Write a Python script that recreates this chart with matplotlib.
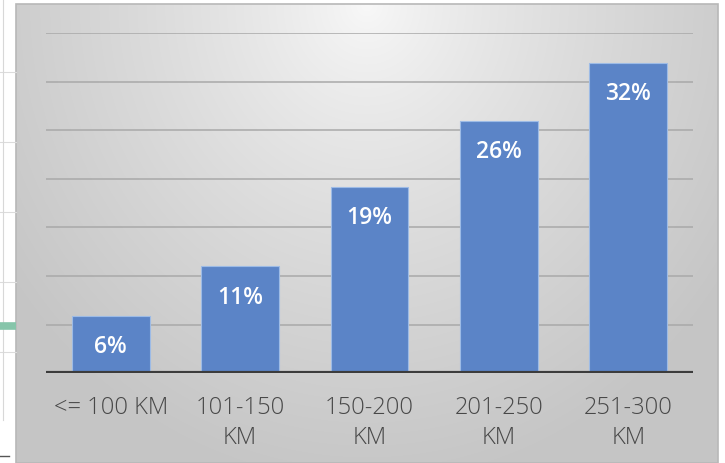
import numpy as np
import matplotlib
matplotlib.use("Agg")
import matplotlib.pyplot as plt
from matplotlib.lines import Line2D
from matplotlib.patches import Rectangle

categories = ["<= 100 KM", "101-150\nKM", "150-200\nKM", "201-250\nKM", "251-300\nKM"]
values = [0.059, 0.110, 0.192, 0.260, 0.319]
labels = ["6%", "11%", "19%", "26%", "32%"]

W, H = 725, 463
fig = plt.figure(figsize=(W / 100, H / 100), dpi=100)
fig.patch.set_facecolor("white")

# ---- spreadsheet artifacts on the left ----
def fx(px):
    return px / W
def fy(py):
    return 1 - py / H

for yy in [72, 142, 212, 282, 352]:
    fig.add_artist(Line2D([fx(0), fx(16)], [fy(yy), fy(yy)], color="#dcdcdc", lw=0.8))
fig.add_artist(Line2D([fx(3), fx(3)], [fy(0), fy(420)], color="#d8d8d8", lw=0.8))
fig.add_artist(Line2D([fx(0), fx(16)], [fy(326), fy(326)], color="#86c5aa", lw=5.5, solid_capstyle="butt"))
fig.add_artist(Line2D([fx(0), fx(9)], [fy(456), fy(456)], color="#555555", lw=1.0))

# ---- gradient chart background ----
bx0, bx1, by0, by1 = 16, 718, 4, 463
bg = fig.add_axes([fx(bx0), fy(by1), fx(bx1 - bx0), (by1 - by0) / H])
bg.set_axis_off()
nx, ny = 400, 300
xx, yy = np.meshgrid(np.linspace(0, 1, nx), np.linspace(0, 1, ny))
t = np.sqrt(((xx - 0.5) / 0.62) ** 2 + (yy / 1.05) ** 2)
t = np.clip(t, 0, 1)
v = 0.975 - 0.20 * t ** 0.8
img = np.dstack([v, v, v])
bg.imshow(img, extent=[0, 1, 1, 0], aspect="auto", interpolation="bilinear")
bg.set_xlim(0, 1)
bg.set_ylim(1, 0)
bg.add_patch(Rectangle((0, 0), 1, 1, fill=False, edgecolor="#b8b8b8", lw=1.2,
                       transform=bg.transAxes, clip_on=False))

# ---- main axes ----
ax0, ax1 = 46, 693
base_y, top_y = 373.3, 33.0
ax = fig.add_axes([fx(ax0), fy(base_y), fx(ax1 - ax0), (base_y - top_y) / H])
ax.set_facecolor("none")
x = np.arange(len(categories))
ax.set_xlim(-0.5, len(categories) - 0.5)
ax.set_ylim(0, 0.35)

for g in np.arange(0.05, 0.351, 0.05):
    ax.axhline(g, color="#a9a9a9", lw=1.3, alpha=0.85, zorder=1)

bars = ax.bar(x, values, width=0.6, color="#5b84c7", edgecolor="#9dbbe6",
              linewidth=0.8, zorder=2)
ax.axhline(0, color="#3c3c3c", lw=3.0, zorder=3)

for xi, v_, lab in zip(x, values, labels):
    ax.annotate(lab, (xi, v_), xytext=(0, -22.5), textcoords="offset points",
                ha="center", va="center", color="white", fontsize=16.5,
                fontweight="semibold", family=["Open Sans", "DejaVu Sans"], zorder=4)

ax.set_xticks(x)
ax.set_xticklabels(categories, fontsize=17, color="#484848", fontweight="light",
                   family=["Open Sans", "DejaVu Sans"], linespacing=1.36)
ax.tick_params(axis="x", length=0, pad=16)
ax.set_yticks([])
for s in ax.spines.values():
    s.set_visible(False)

fig.savefig("out.png", dpi=100)
